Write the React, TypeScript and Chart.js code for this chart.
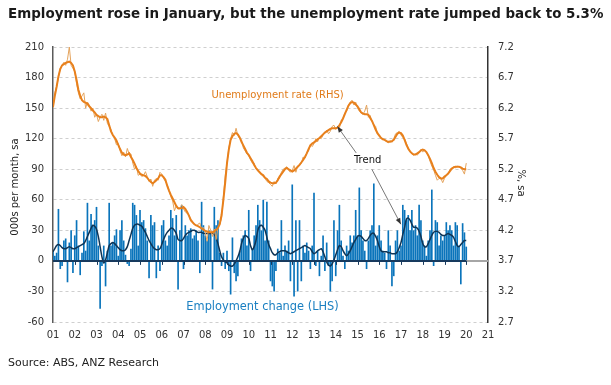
import React, { useEffect, useRef } from 'react';
import { Chart, registerables } from 'chart.js';

Chart.register(...registerables);

const FONT = "'DejaVu Sans', Verdana, sans-serif";

// x tick labels: one per January, 2001..2021 (month index 0, 12, ... 240)
const yearLabels = ['01', '02', '03', '04', '05', '06', '07', '08', '09', '10', '11', '12', '13', '14', '15', '16', '17', '18', '19', '20', '21'];

// Unemployment rate, %, sa (monthly, Jan 2001 .. Jan 2020)
const unempRate = [
  6.2, 6.45, 6.55, 6.7, 6.85, 6.9, 6.95, 6.9, 7.0, 7.2, 6.9, 6.85,
  6.8, 6.6, 6.45, 6.35, 6.4, 6.45, 6.2, 6.3, 6.25, 6.15, 6.2, 6.05,
  6.1, 5.98, 6.05, 6.1, 6.0, 6.12, 5.95, 5.9, 5.85, 5.75, 5.7, 5.6,
  5.62, 5.5, 5.42, 5.48, 5.4, 5.54, 5.45, 5.45, 5.3, 5.2, 5.25, 5.1,
  5.12, 5.08, 5.1, 5.16, 5.08, 5.0, 5.04, 4.92, 5.02, 5.05, 5.02, 5.15,
  5.12, 5.05, 5.0, 4.95, 4.85, 4.75, 4.68, 4.52, 4.6, 4.55, 4.55, 4.62,
  4.55, 4.5, 4.48, 4.45, 4.35, 4.35, 4.3, 4.27, 4.3, 4.32, 4.22, 4.25,
  4.16, 4.02, 4.28, 4.2, 4.1, 4.22, 4.05, 4.25, 4.3, 4.4, 4.75, 5.1,
  5.3, 5.55, 5.7, 5.8, 5.75, 5.87, 5.75, 5.7, 5.68, 5.55, 5.5, 5.45,
  5.43, 5.35, 5.3, 5.3, 5.2, 5.2, 5.15, 5.12, 5.08, 5.05, 5.0, 4.98,
  4.95, 4.92, 5.0, 4.96, 5.05, 5.05, 5.15, 5.2, 5.22, 5.24, 5.18, 5.15,
  5.18, 5.26, 5.15, 5.25, 5.26, 5.3, 5.4, 5.38, 5.46, 5.5, 5.6, 5.57,
  5.62, 5.7, 5.65, 5.72, 5.7, 5.76, 5.79, 5.84, 5.78, 5.82, 5.9, 5.92,
  5.85, 5.9, 5.87, 6.0, 6.03, 6.12, 6.15, 6.25, 6.3, 6.33, 6.25, 6.3,
  6.2, 6.15, 6.12, 6.1, 6.15, 6.25, 6.05, 6.08, 5.98, 5.93, 5.9, 5.78,
  5.76, 5.72, 5.7, 5.68, 5.65, 5.63, 5.67, 5.64, 5.7, 5.78, 5.8, 5.82,
  5.76, 5.72, 5.7, 5.62, 5.52, 5.5, 5.45, 5.43, 5.45, 5.43, 5.47, 5.52,
  5.48, 5.52, 5.48, 5.42, 5.33, 5.25, 5.19, 5.1, 5.02, 5.05, 5.05, 4.98,
  5.05, 5.1, 5.12, 5.2, 5.22, 5.24, 5.22, 5.25, 5.24, 5.22, 5.18, 5.12,
  5.3,
];

// Unemployment rate, trend, %
const unempTrend = [
  6.22, 6.4, 6.55, 6.72, 6.84, 6.9, 6.92, 6.94, 6.95, 6.96, 6.94, 6.9,
  6.8, 6.66, 6.5, 6.4, 6.33, 6.3, 6.29, 6.27, 6.23, 6.2, 6.16, 6.13,
  6.09, 6.07, 6.05, 6.05, 6.06, 6.05, 6.02, 5.92, 5.82, 5.76, 5.72, 5.67,
  5.6, 5.53, 5.47, 5.44, 5.43, 5.44, 5.46, 5.4, 5.35, 5.29, 5.22, 5.17,
  5.13, 5.11, 5.1, 5.09, 5.06, 5.02, 4.99, 4.97, 4.99, 5.02, 5.05, 5.1,
  5.1, 5.07, 5.03, 4.93, 4.85, 4.78, 4.72, 4.66, 4.6, 4.56, 4.56, 4.56,
  4.58, 4.55, 4.5, 4.44, 4.37, 4.33, 4.3, 4.28, 4.27, 4.25, 4.23, 4.21,
  4.19, 4.18, 4.17, 4.17, 4.17, 4.18, 4.21, 4.24, 4.3, 4.45, 4.7, 4.98,
  5.3, 5.52, 5.68, 5.74, 5.78, 5.79, 5.77, 5.72, 5.65, 5.59, 5.53, 5.47,
  5.43, 5.38, 5.33, 5.27, 5.22, 5.18, 5.15, 5.12, 5.1, 5.06, 5.04, 5.0,
  4.98, 4.97, 4.97, 4.98, 5.02, 5.08, 5.12, 5.16, 5.2, 5.22, 5.2, 5.18,
  5.16, 5.18, 5.21, 5.24, 5.27, 5.31, 5.35, 5.4, 5.46, 5.53, 5.59, 5.62,
  5.64, 5.66, 5.69, 5.71, 5.74, 5.77, 5.8, 5.82, 5.84, 5.86, 5.87, 5.87,
  5.87, 5.88, 5.92, 5.97, 6.03, 6.1, 6.17, 6.24, 6.28, 6.3, 6.29, 6.26,
  6.23, 6.18, 6.13, 6.11, 6.1, 6.1, 6.09, 6.04, 5.99, 5.92, 5.85, 5.79,
  5.75, 5.71, 5.69, 5.68, 5.66, 5.65, 5.65, 5.66, 5.68, 5.73, 5.78, 5.8,
  5.79, 5.75, 5.68, 5.6, 5.54, 5.49, 5.46, 5.44, 5.44, 5.46, 5.48, 5.51,
  5.52, 5.51, 5.48, 5.43, 5.37, 5.3, 5.22, 5.16, 5.11, 5.07, 5.05, 5.05,
  5.08, 5.1, 5.13, 5.17, 5.21, 5.23, 5.24, 5.24, 5.24, 5.23, 5.21, 5.2,
  5.2,
];

// Employment change, 000s per month, sa
const empChange = [
  10, 5, 8, 51, -8, -5, 20, 22, -21, 18, 30, -12,
  25, 40, 15, -14, 8, 29, 10, 57, 20, 46, 35, 40,
  53, 15, -47, -5, 15, -25, 10, 57, 15, 18, 25, 31,
  5, 30, 40, 20, 6, -3, -5, 12, 57, 55, 45, 15,
  50, 38, 40, 32, 20, -17, 45, 35, 38, -17, 15, -10,
  35, 40, 20, 15, 25, 50, 42, 25, 45, -28, 30, 55,
  -8, 35, 25, 30, 32, 22, 25, 30, 20, -12, 58, 35,
  25, 20, 30, 28, -28, 53, 35, 40, 8, -5, 8, -8,
  10, -10, -33, 23, -12, -20, -15, 10, 22, 25, 30, 15,
  50, -10, 12, 25, 35, 55, 40, 30, 60, 20, 58, 20,
  -20, -25, -30, -10, 12, 8, 40, 5, 15, 10, 20, -20,
  75, -35, 40, -30, 40, -20, 15, 8, 18, 10, -8, 15,
  67, -5, 10, -15, 5, 25, -10, 18, -5, -30, -20, 40,
  -15, 30, 55, 20, 5, -8, 15, 10, 25, 18, 25, 50,
  25, 72, 30, 20, 10, -8, 20, 30, 35, 76, 15, 25,
  35, 20, 10, 8, -8, 30, 15, -25, -15, 20, 30, 10,
  15, 55, 50, 40, 45, 30, 50, 30, 35, 25, 55, 40,
  20, 15, 5, 20, 30, 70, -5, 40, 38, 15, 25, 20,
  25, 38, 30, 35, 30, 15, 38, 35, 15, -23, 37, 28,
  14,
];

// Employment change, trend, 000s
const empTrend = [
  9, 12, 15, 16, 15, 13, 12, 12, 13, 14, 13, 12,
  12, 13, 14, 15, 16, 17, 20, 24, 28, 32, 35, 34,
  31, 24, 14, 4, -2, 1, 8, 15, 17, 18, 17, 15,
  13, 11, 10, 10, 11, 14, 20, 26, 32, 35, 36, 36,
  35, 34, 31, 28, 24, 20, 17, 14, 12, 11, 11, 12,
  16, 21, 25, 28, 30, 32, 32, 30, 27, 21, 20, 20,
  22, 25, 27, 28, 29, 30, 30, 29, 28, 28, 28, 27,
  27, 27, 27, 27, 27, 26, 23, 17, 10, 4, 1, -1,
  -2, -4, -5, -5, -3, 0, 4, 9, 17, 22, 25, 24,
  22, 15, 11, 14, 20, 30, 34, 35, 33, 30, 23, 16,
  12, 8, 6, 6, 8, 9, 10, 10, 10, 9, 8, 7,
  8, 9, 10, 11, 12, 13, 14, 15, 14, 13, 12, 9,
  7, 8, 10, 11, 12, 9, 4, -1, -4, -5, -3, 1,
  6, 11, 15, 14, 10, 7, 5, 7, 10, 14, 18, 21,
  24, 25, 24, 22, 20, 20, 22, 25, 27, 27, 24, 20,
  14, 10, 9, 9, 9, 8, 8, 7, 7, 7, 9, 13,
  18, 26, 33, 41, 42, 40, 36, 33, 33, 32, 29, 24,
  17, 14, 14, 17, 21, 25, 28, 29, 29, 28, 26, 25,
  25, 26, 27, 26, 25, 23, 19, 15, 14, 16, 18, 20,
  20,
];

const TITLE = 'Employment rose in January, but the unemployment rate jumped back to 5.3%';
const SOURCE = 'Source: ABS, ANZ Research';

const xy = (arr: number[]) => arr.map((v, i) => ({ x: i, y: v }));

export default function App() {
  const ref = useRef<HTMLCanvasElement>(null);

  useEffect(() => {
    const canvas = ref.current;
    if (!canvas) return;

    const overlay = {
      id: 'overlay',
      afterDatasetsDraw(chart: any) {
        const { ctx, chartArea, scales } = chart;
        const x = scales.x;
        const y = scales.y;
        const y0 = y.getPixelForValue(0);
        const xEnd = x.getPixelForValue(empChange.length - 1);
        ctx.save();
        ctx.lineWidth = 2;
        ctx.strokeStyle = '#a6a6a6';
        ctx.beginPath();
        ctx.moveTo(chartArea.left, y0);
        ctx.lineTo(chartArea.right, y0);
        ctx.stroke();
        ctx.strokeStyle = '#173a5e';
        ctx.beginPath();
        ctx.moveTo(chartArea.left, y0);
        ctx.lineTo(xEnd, y0);
        ctx.stroke();
        ctx.lineWidth = 1;
        for (let k = 1; k < yearLabels.length - 1; k++) {
          const px = Math.round(x.getPixelForValue(k * 12)) + 0.5;
          ctx.strokeStyle = k * 12 <= empChange.length - 1 ? '#173a5e' : '#a6a6a6';
          ctx.beginPath();
          ctx.moveTo(px, y0);
          ctx.lineTo(px, y0 + 4);
          ctx.stroke();
        }
        ctx.restore();
      },
      afterDraw(chart: any) {
        const { ctx, scales } = chart;
        const x = scales.x;
        const y = scales.y;
        const y1 = scales.y1;
        ctx.save();
        // title
        ctx.fillStyle = '#1a1a1a';
        ctx.font = `bold 13.45px ${FONT}`;
        ctx.textAlign = 'left';
        ctx.textBaseline = 'middle';
        ctx.fillText(TITLE, 8, 15);
        // source
        ctx.font = `11px ${FONT}`;
        ctx.fillStyle = '#222';
        ctx.fillText(SOURCE, 8, 363);
        // axis titles
        ctx.font = `10px ${FONT}`;
        ctx.save();
        ctx.translate(15, 187);
        ctx.rotate(-Math.PI / 2);
        ctx.textAlign = 'center';
        ctx.fillStyle = '#222';
        ctx.fillText('000s per month, sa', 0, 0);
        ctx.restore();
        ctx.save();
        ctx.translate(521, 183);
        ctx.rotate(Math.PI / 2);
        ctx.textAlign = 'center';
        ctx.fillStyle = '#222';
        ctx.fillText('%, sa', 0, 0);
        ctx.restore();
        // series labels
        ctx.textAlign = 'center';
        ctx.fillStyle = '#e07b1a';
        ctx.fillText('Unemployment rate (RHS)', x.getPixelForValue(123.9), y.getPixelForValue(162));
        ctx.fillStyle = '#111';
        ctx.fillText('Trend', x.getPixelForValue(173.6), y.getPixelForValue(99));
        ctx.font = `11.4px ${FONT}`;
        ctx.fillStyle = '#1a7fc1';
        ctx.fillText('Employment change (LHS)', x.getPixelForValue(115.6), y.getPixelForValue(-45.5));
        // arrows
        const arrow = (xa: number, ya: number, xb: number, yb: number) => {
          ctx.strokeStyle = '#555';
          ctx.fillStyle = '#333';
          ctx.lineWidth = 0.8;
          ctx.beginPath();
          ctx.moveTo(xa, ya);
          ctx.lineTo(xb, yb);
          ctx.stroke();
          const ang = Math.atan2(yb - ya, xb - xa);
          const L = 6;
          const W = 2.5;
          ctx.beginPath();
          ctx.moveTo(xb, yb);
          ctx.lineTo(xb - L * Math.cos(ang) + W * Math.sin(ang), yb - L * Math.sin(ang) - W * Math.cos(ang));
          ctx.lineTo(xb - L * Math.cos(ang) - W * Math.sin(ang), yb - L * Math.sin(ang) + W * Math.cos(ang));
          ctx.closePath();
          ctx.fill();
        };
        arrow(x.getPixelForValue(167.3), y.getPixelForValue(106), x.getPixelForValue(156.9), y1.getPixelForValue(5.9));
        arrow(x.getPixelForValue(175.9), y.getPixelForValue(90), x.getPixelForValue(191.9), y.getPixelForValue(36));
        ctx.restore();
      },
    };

    const tickFont = { family: FONT, size: 10 };

    const chart = new Chart(canvas, {
      type: 'line',
      data: {
        datasets: [
          {
            type: 'line',
            label: 'Unemployment rate, trend',
            data: xy(unempTrend),
            yAxisID: 'y1',
            borderColor: '#e8801c',
            borderWidth: 2,
            pointRadius: 0,
            tension: 0,
            order: 0,
          },
          {
            type: 'line',
            label: 'Unemployment rate',
            data: xy(unempRate),
            yAxisID: 'y1',
            borderColor: '#e4a35c',
            borderWidth: 1,
            pointRadius: 0,
            tension: 0,
            order: 1,
          },
          {
            type: 'line',
            label: 'Employment change, trend',
            data: xy(empTrend),
            yAxisID: 'y',
            borderColor: '#0f3556',
            borderWidth: 1.5,
            pointRadius: 0,
            tension: 0.3,
            order: 2,
          },
          {
            type: 'bar',
            label: 'Employment change',
            data: xy(empChange),
            yAxisID: 'y',
            backgroundColor: '#0a74bb',
            barPercentage: 1,
            categoryPercentage: 0.92,
            order: 3,
          },
        ] as any,
      },
      options: {
        animation: false,
        responsive: false,
        maintainAspectRatio: false,
        layout: { padding: { top: 47, left: 0, right: 0, bottom: 0 } },
        plugins: {
          legend: { display: false },
          tooltip: { enabled: false },
          title: { display: false },
        },
        scales: {
          x: {
            type: 'linear',
            min: 0,
            max: 240,
            offset: false,
            afterFit: (s: any) => {
              s.height = 63;
            },
            grid: { display: false, drawTicks: false, offset: false },
            border: { display: false },
            ticks: {
              stepSize: 12,
              autoSkip: false,
              maxRotation: 0,
              minRotation: 0,
              padding: 7,
              color: '#333',
              font: tickFont,
              callback: (v: any) => yearLabels[Math.round(Number(v) / 12)] ?? '',
            },
          },
          y: {
            type: 'linear',
            position: 'left',
            min: -60,
            max: 210,
            afterFit: (s: any) => {
              s.width = 53;
            },
            grid: { color: '#cfcfcf', lineWidth: 1, drawTicks: false },
            border: { display: true, color: '#5a5a5a', width: 1.5, dash: [3, 3] },
            ticks: { stepSize: 30, padding: 9, color: '#333', font: tickFont },
          },
          y1: {
            type: 'linear',
            position: 'right',
            min: 2.7,
            max: 7.2,
            afterFit: (s: any) => {
              s.width = 123;
            },
            grid: { display: false, drawTicks: false },
            border: { display: true, color: '#333', width: 1.5 },
            ticks: {
              stepSize: 0.5,
              padding: 10,
              color: '#333',
              font: tickFont,
              callback: (v: any) => Number(v).toFixed(1),
            },
          },
        },
      } as any,
      plugins: [overlay],
    });

    return () => chart.destroy();
  }, []);

  return (
    <div style={{ position: 'absolute', left: 0, top: 0, width: 611, height: 385, background: '#fff' }}>
      <canvas ref={ref} width={611} height={385} style={{ display: 'block' }} />
    </div>
  );
}
